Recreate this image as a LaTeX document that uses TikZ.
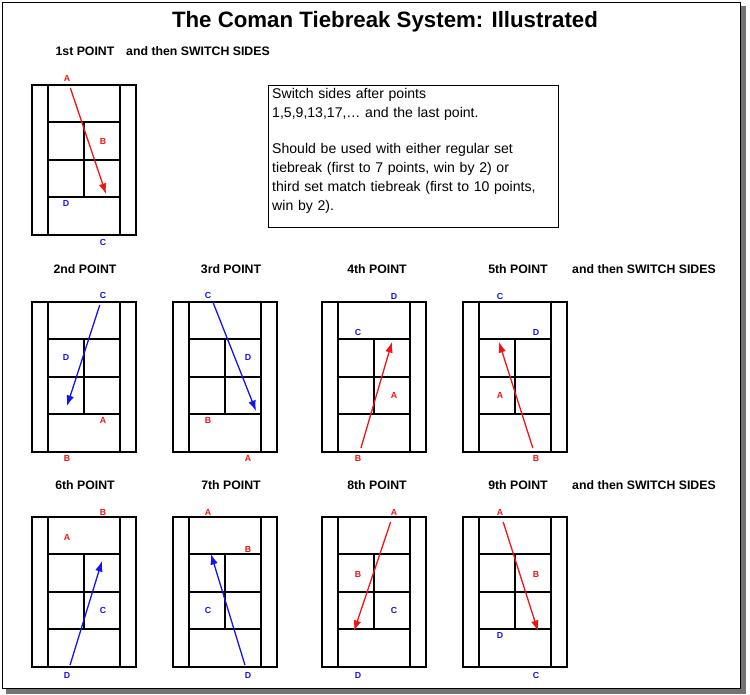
\documentclass[tikz,border=0pt]{standalone}
\usepackage{fontspec}
\setmainfont{Liberation Sans}
\usetikzlibrary{arrows.meta}
\definecolor{ptred}{RGB}{240,20,20}
\definecolor{ptblue}{RGB}{20,20,240}
\tikzset{
  line/.style={line width=1.4pt},
  pl/.style={font=\fontsize{7.5}{8}\selectfont\bfseries,inner sep=0pt},
  red pl/.style={pl,text=ptred},
  blue pl/.style={pl,text=ptblue},
  head/.style={font=\fontsize{10.5}{12}\selectfont\bfseries,inner sep=0pt},
  shot/.style={line width=1.1pt,shorten <=6pt,-{Latex[length=9pt,width=6.5pt]}},
}
% a court with its corner at (#1,#2)
\newcommand\court[2]{%
  \begin{scope}[shift={(#1,#2)}]
  \draw[line] (0,0) rectangle (104,150);
  \draw[line] (16,0) -- (16,150) (88,0) -- (88,150);
  \draw[line] (16,37) -- (88,37) (16,112) -- (88,112) (16,75) -- (88,75) (52,37) -- (52,112);
  \end{scope}}
\begin{document}
\begin{tikzpicture}[x=0.03cm,y=-0.03cm]
\useasboundingbox (0,0) rectangle (750,695);
\fill[black!55] (6,6) rectangle (746,694);
\draw[fill=white,line width=0.8pt] (2,2) rectangle (740,688);
\node[font=\fontsize{19}{22}\selectfont\bfseries] (title) at (385,22) {The Coman Tiebreak System: Illustrated};

\draw[line width=0.7pt] (268,85) rectangle (558,227);
\node[anchor=north west,inner sep=0pt,text width=7.9cm,align=left,
  font=\fontsize{12}{16.3}\selectfont] (note) at (272,88)
  {Switch sides after points\\1,5,9,13,17,\dots\ and the last point.\\[14pt]Should be used with either regular set tiebreak (first to 7 points, win by 2) or third set match tiebreak (first to 10 points, win by 2).};

% headings
\node[head] (h1) at (85,51) {1st POINT};
\node[head] (s1) at (198,51) {and then SWITCH SIDES};
\node[head] (h2) at (85,269) {2nd POINT};
\node[head] (h3) at (231,269) {3rd POINT};
\node[head] (h4) at (377,269) {4th POINT};
\node[head] (h5) at (518,269) {5th POINT};
\node[head] (s5) at (644,269) {and then SWITCH SIDES};
\node[head] (h6) at (85,485) {6th POINT};
\node[head] (h7) at (231,485) {7th POINT};
\node[head] (h8) at (377,485) {8th POINT};
\node[head] (h9) at (518,485) {9th POINT};
\node[head] (s9) at (644,485) {and then SWITCH SIDES};

\court{32}{85}
\court{32}{302}
\court{173}{302}
\court{322}{302}
\court{463}{302}
\court{32}{517}
\court{173}{517}
\court{322}{517}
\court{463}{517}

% 1st point
\node[red pl] (a1) at (67,78) {A};
\node[red pl] (b1) at (103,141) {B};
\node[blue pl] (d1) at (66,203) {D};
\node[blue pl] (c1) at (103,242) {C};
\coordinate (t1) at (106,194);
\draw[shot,ptred] (a1) -- (t1);
% 2nd point
\node[blue pl] (c2) at (103,295) {C};
\node[blue pl] (d2) at (66,357) {D};
\node[red pl] (a2) at (103,420) {A};
\node[red pl] (b2) at (67,458) {B};
\coordinate (t2) at (67,406);
\draw[shot,ptblue] (c2) -- (t2);
% 3rd point
\node[blue pl] (c3) at (208,295) {C};
\node[blue pl] (d3) at (248,357) {D};
\node[red pl] (b3) at (208,420) {B};
\node[red pl] (a3) at (248,458) {A};
\coordinate (t3) at (256,411);
\draw[shot,ptblue,shorten <=3pt] (c3.south east) -- (t3);
% 4th point
\node[blue pl] (d4) at (394,296) {D};
\node[blue pl] (c4) at (358,332) {C};
\node[red pl] (a4) at (394,395) {A};
\node[red pl] (b4) at (358,458) {B};
\coordinate (t4) at (392,342);
\draw[shot,ptred] (b4) -- (t4);
% 5th point
\node[blue pl] (c5) at (500,296) {C};
\node[blue pl] (d5) at (536,332) {D};
\node[red pl] (a5) at (500,395) {A};
\node[red pl] (b5) at (536,458) {B};
\coordinate (t5) at (499,342);
\draw[shot,ptred] (b5) -- (t5);
% 6th point
\node[red pl] (b6) at (103,512) {B};
\node[red pl] (a6) at (67,537) {A};
\node[blue pl] (c6) at (103,610) {C};
\node[blue pl] (d6) at (67,675) {D};
\coordinate (t6) at (102,561);
\draw[shot,ptblue] (d6) -- (t6);
% 7th point
\node[red pl] (a7) at (208,512) {A};
\node[red pl] (b7) at (248,549) {B};
\node[blue pl] (c7) at (208,610) {C};
\node[blue pl] (d7) at (248,675) {D};
\coordinate (t7) at (211,554);
\draw[shot,ptblue] (d7) -- (t7);
% 8th point
\node[red pl] (a8) at (394,512) {A};
\node[red pl] (b8) at (358,574) {B};
\node[blue pl] (c8) at (394,610) {C};
\node[blue pl] (d8) at (358,675) {D};
\coordinate (t8) at (354,631);
\draw[shot,ptred] (a8) -- (t8);
% 9th point
\node[red pl] (a9) at (500,512) {A};
\node[red pl] (b9) at (536,574) {B};
\node[blue pl] (d9) at (500,635) {D};
\node[blue pl] (c9) at (536,675) {C};
\coordinate (t9) at (538,631);
\draw[shot,ptred] (a9) -- (t9);
\end{tikzpicture}
\end{document}
